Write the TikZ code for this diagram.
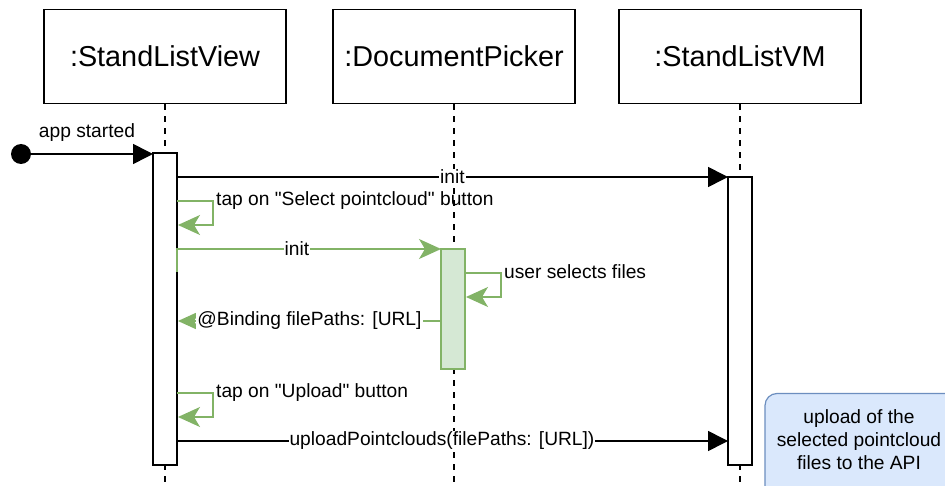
\documentclass[tikz,border=0pt]{standalone}
\usepackage{fontspec}
\setmainfont{Liberation Sans}[Ligatures=TeXOff]
\usetikzlibrary{arrows.meta}
\definecolor{gstroke}{HTML}{82B366}
\definecolor{gfill}{HTML}{D5E8D4}
\definecolor{bstroke}{HTML}{6C8EBF}
\definecolor{bfill}{HTML}{DAE8FC}
\begin{document}
\begin{tikzpicture}[x=1pt,y=-1pt,
  head/.style={draw, line width=1.6pt, minimum width=242pt, minimum height=94pt, inner sep=0pt, font=\fontsize{28.8}{34}\selectfont},
  life/.style={line width=1.6pt, dash pattern=on 6pt off 6pt},
  act/.style={draw, fill=white, line width=1.6pt, minimum width=24pt, inner sep=0pt},
  gact/.style={act, draw=gstroke, fill=gfill},
  msg/.style={line width=1.6pt, -{Triangle[length=20pt,width=20pt]}},
  gmsg/.style={line width=1.6pt, draw=gstroke, -{Stealth[length=22pt,width=20pt,inset=6pt]}, fill=none},
  lbl/.style={fill=white, inner sep=1pt, font=\fontsize{19.2}{23}\selectfont},
  plbl/.style={inner sep=1pt, font=\fontsize{19.2}{23}\selectfont},
]
\useasboundingbox (0,0) rectangle (945,486);
\fill[white] (0,0) rectangle (945,486);

% headers
\node[head] (h1) at (165,56.5) {:StandListView};
\node[head] (h2) at (454,56.5) {:DocumentPicker};
\node[head] (h3) at (740,56.5) {:StandListVM};

% lifelines
\coordinate (e1) at (165,490);
\coordinate (e2) at (454,490);
\coordinate (e3) at (740,490);
\draw[life] (h1.south) -- (e1);
\draw[life] (h2.south) -- (e2);
\draw[life] (h3.south) -- (e3);

% activations
\node[act, minimum height=312pt] (a1) at (165,309) {};
\node[act, minimum height=288pt] (a3) at (740,321) {};
\node[gact, minimum height=120pt] (a2) at (453,309) {};

% start
\node[circle, fill=black, minimum size=20pt, inner sep=0pt] (start) at (21,154) {};
\coordinate (s1) at (153,154);
\draw[msg] (start) -- (s1);
\node[plbl] (lstart) at (87,133) {app started};

% init (black)
\coordinate (m1s) at (177,177);
\coordinate (m1e) at (728,177);
\draw[msg] (m1s) -- (m1e) node[midway, lbl] (lm1) {init};

% self loop 1
\coordinate (l1a) at (177,201);
\coordinate (l1b) at (178,225);
\draw[gmsg] (l1a) -- ++(36,0) -- ++(0,24) -- (l1b);
\node[plbl, anchor=west] (ll1) at (215,201) {tap on "Select pointcloud" button};

% init (green)
\coordinate (g1s) at (177,272);
\coordinate (g1e) at (441,249);
\draw[gmsg] (g1s) |- (g1e);
\node[lbl] (lg1) at (297,249) {init};

% user selects files
\coordinate (l2a) at (465,273);
\coordinate (l2b) at (466,297);
\draw[gmsg] (l2a) -- ++(36,0) -- ++(0,24) -- (l2b);
\node[plbl, anchor=west] (ll2) at (503,272) {user selects files};

% binding
\coordinate (b1s) at (441,321);
\coordinate (b1e) at (178,321);
\draw[gmsg] (b1s) -- (b1e) node[midway, lbl] (lb1) {@Binding filePaths: [URL]};

% self loop upload
\coordinate (l3a) at (177,393);
\coordinate (l3b) at (178,417);
\draw[gmsg] (l3a) -- ++(36,0) -- ++(0,24) -- (l3b);
\node[plbl, anchor=west] (ll3) at (215,393) {tap on "Upload" button};

% upload
\coordinate (u1s) at (177,441);
\coordinate (u1e) at (728,441);
\draw[msg] (u1s) -- (u1e);
\node[lbl] (lu1) at (442,441) {uploadPointclouds(filePaths: [URL])};

% note
\draw[draw=bstroke, fill=bfill, line width=1.2pt, rounded corners=12pt] (765,393.5) rectangle (960,500);
\node[align=center, inner sep=0pt, font=\fontsize{19.2}{23}\selectfont] (note) at (859,440) {upload of the\\selected pointcloud\\files to the API};
\end{tikzpicture}
\end{document}
